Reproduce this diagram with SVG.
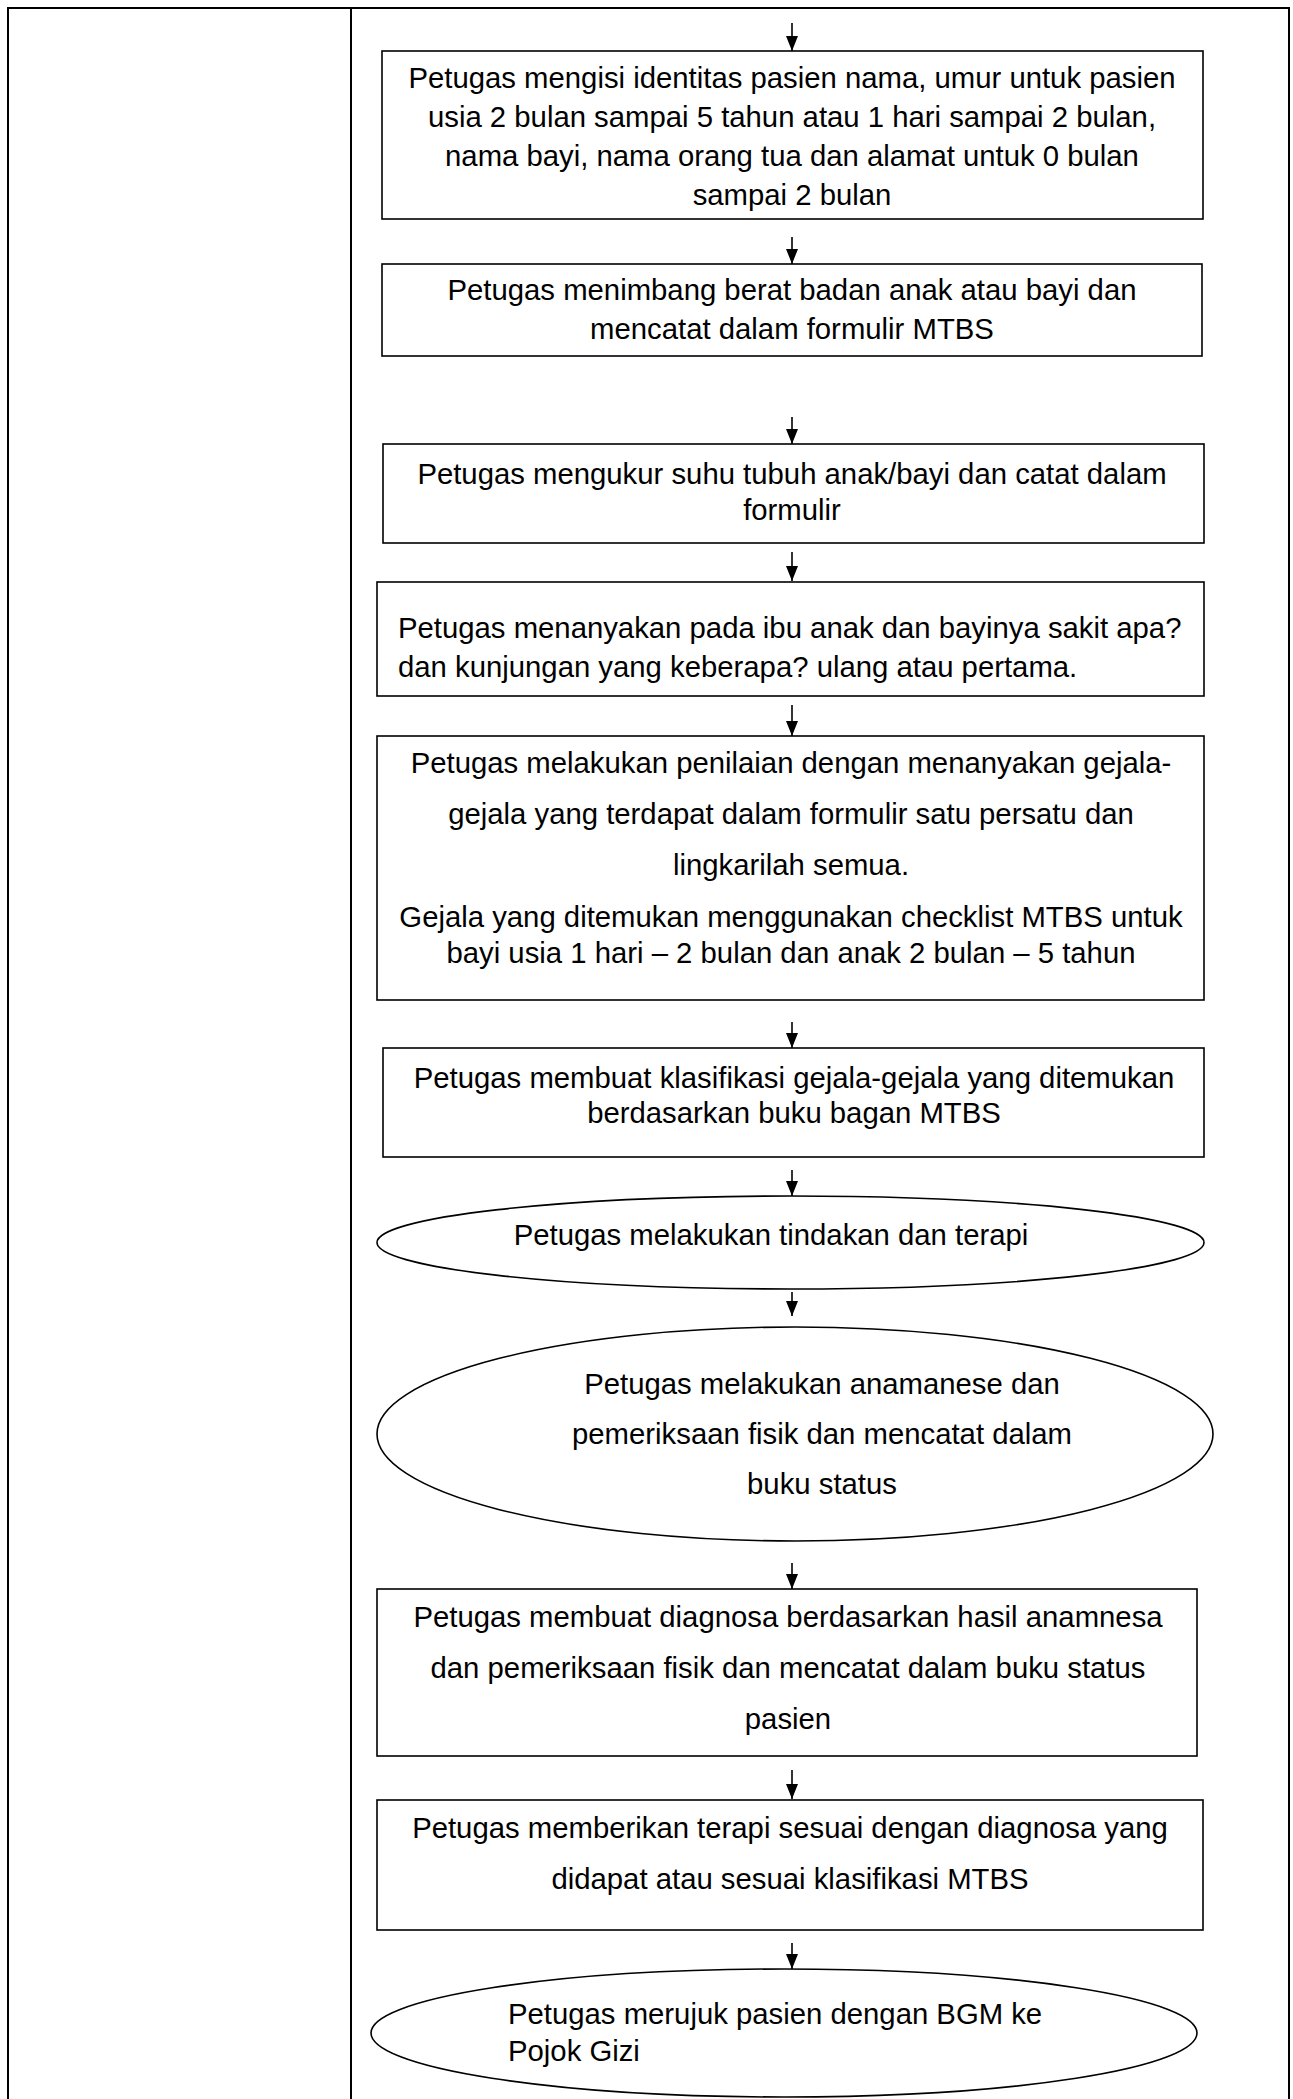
<svg xmlns="http://www.w3.org/2000/svg" width="1293" height="2099" viewBox="0 0 1293 2099">
<style>
.frame{fill:none;stroke:#000;stroke-width:2}
.box{fill:#fff;stroke:#000;stroke-width:1.6}
.t{font-family:"Liberation Sans",Arial,sans-serif;font-size:29.3px;fill:#000}
.c{text-anchor:middle}
.arr{stroke:#000;stroke-width:1.6;fill:none}
</style>
<defs>
<marker id="ah" markerWidth="15" markerHeight="12" refX="15" refY="6" orient="auto" markerUnits="userSpaceOnUse" viewBox="0 0 15 12">
<path d="M0,0 L15,6 L0,12 Z" fill="#000"/>
</marker>
</defs>
<rect width="1293" height="2099" fill="#fff"/>
<g id="frame">
<line class="frame" x1="7" y1="8" x2="1290" y2="8"/>
<line class="frame" x1="8" y1="7" x2="8" y2="2099"/>
<line class="frame" x1="1289" y1="7" x2="1289" y2="2099"/>
<line class="frame" x1="351" y1="8" x2="351" y2="2099"/>
</g>
<g id="connectors">
<line class="arr" x1="792" y1="23" x2="792" y2="51" marker-end="url(#ah)"/>
<line class="arr" x1="792" y1="237" x2="792" y2="264" marker-end="url(#ah)"/>
<line class="arr" x1="792" y1="417" x2="792" y2="444" marker-end="url(#ah)"/>
<line class="arr" x1="792" y1="552" x2="792" y2="581" marker-end="url(#ah)"/>
<line class="arr" x1="792" y1="705" x2="792" y2="736" marker-end="url(#ah)"/>
<line class="arr" x1="792" y1="1022" x2="792" y2="1048" marker-end="url(#ah)"/>
<line class="arr" x1="792" y1="1170" x2="792" y2="1196" marker-end="url(#ah)"/>
<line class="arr" x1="792" y1="1292" x2="792" y2="1316" marker-end="url(#ah)"/>
<line class="arr" x1="792" y1="1563" x2="792" y2="1589" marker-end="url(#ah)"/>
<line class="arr" x1="792" y1="1770" x2="792" y2="1799" marker-end="url(#ah)"/>
<line class="arr" x1="792" y1="1943" x2="792" y2="1969" marker-end="url(#ah)"/>
</g>
<g id="n1">
<rect class="box" x="382" y="51" width="821" height="168"/>
<text class="t c" x="792" y="88">Petugas mengisi identitas pasien nama, umur untuk pasien</text>
<text class="t c" x="792" y="127">usia 2 bulan sampai 5 tahun atau 1 hari sampai 2 bulan,</text>
<text class="t c" x="792" y="166">nama bayi, nama orang tua dan alamat untuk 0 bulan</text>
<text class="t c" x="792" y="205">sampai 2 bulan</text>
</g>
<g id="n2">
<rect class="box" x="382" y="264" width="820" height="92"/>
<text class="t c" x="792" y="300">Petugas menimbang berat badan anak atau bayi dan</text>
<text class="t c" x="792" y="339">mencatat dalam formulir MTBS</text>
</g>
<g id="n3">
<rect class="box" x="383" y="444" width="821" height="99"/>
<text class="t c" x="792" y="484">Petugas mengukur suhu tubuh anak/bayi dan catat dalam</text>
<text class="t c" x="792" y="520">formulir</text>
</g>
<g id="n4">
<rect class="box" x="377" y="582" width="827" height="114"/>
<text class="t" x="398" y="638">Petugas menanyakan pada ibu anak dan bayinya sakit apa?</text>
<text class="t" x="398" y="677">dan kunjungan yang keberapa? ulang atau pertama.</text>
</g>
<g id="n5">
<rect class="box" x="377" y="736" width="827" height="264"/>
<text class="t c" x="791" y="773">Petugas melakukan penilaian dengan menanyakan gejala-</text>
<text class="t c" x="791" y="824">gejala yang terdapat dalam formulir satu persatu dan</text>
<text class="t c" x="791" y="875">lingkarilah semua.</text>
<text class="t c" x="791" y="927">Gejala yang ditemukan menggunakan checklist MTBS untuk</text>
<text class="t c" x="791" y="963">bayi usia 1 hari – 2 bulan dan anak 2 bulan – 5 tahun</text>
</g>
<g id="n6">
<rect class="box" x="383" y="1048" width="821" height="109"/>
<text class="t c" x="794" y="1088">Petugas membuat klasifikasi gejala-gejala yang ditemukan</text>
<text class="t c" x="794" y="1123">berdasarkan buku bagan MTBS</text>
</g>
<g id="n7">
<ellipse class="box" cx="790.5" cy="1242.5" rx="413.5" ry="46.5"/>
<text class="t c" x="771" y="1245">Petugas melakukan tindakan dan terapi</text>
</g>
<g id="n8">
<ellipse class="box" cx="795" cy="1434" rx="418" ry="107"/>
<text class="t c" x="822" y="1394">Petugas melakukan anamanese dan</text>
<text class="t c" x="822" y="1444">pemeriksaan fisik dan mencatat dalam</text>
<text class="t c" x="822" y="1494">buku status</text>
</g>
<g id="n9">
<rect class="box" x="377" y="1589" width="820" height="167"/>
<text class="t c" x="788" y="1627">Petugas membuat diagnosa berdasarkan hasil anamnesa</text>
<text class="t c" x="788" y="1678">dan pemeriksaan fisik dan mencatat dalam buku status</text>
<text class="t c" x="788" y="1729">pasien</text>
</g>
<g id="n10">
<rect class="box" x="377" y="1800" width="826" height="130"/>
<text class="t c" x="790" y="1838">Petugas memberikan terapi sesuai dengan diagnosa yang</text>
<text class="t c" x="790" y="1889">didapat atau sesuai klasifikasi MTBS</text>
</g>
<g id="n11">
<ellipse class="box" cx="784" cy="2033" rx="413" ry="64"/>
<text class="t" x="508" y="2024">Petugas merujuk pasien dengan BGM ke</text>
<text class="t" x="508" y="2061">Pojok Gizi</text>
</g>
</svg>
